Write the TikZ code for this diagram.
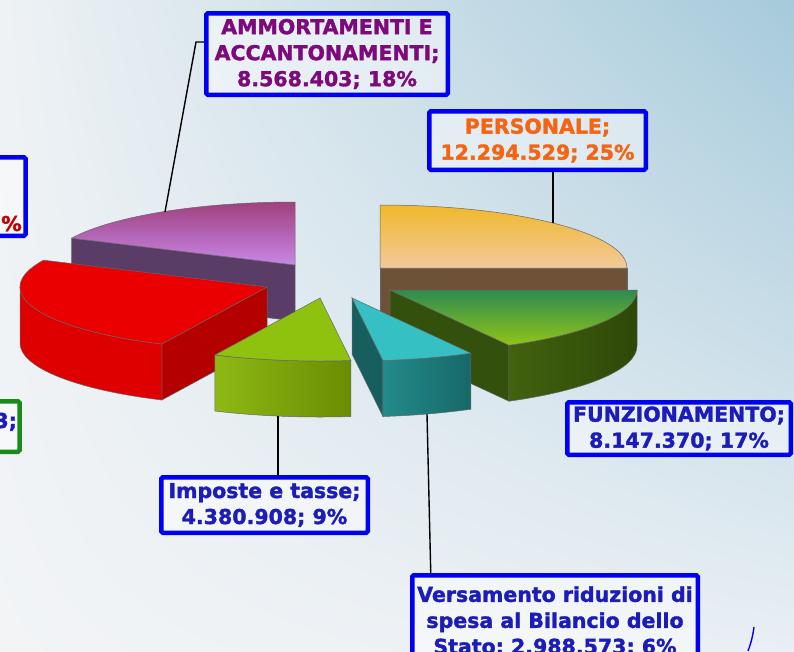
\documentclass[tikz,border=0pt]{standalone}
\usepackage{fontspec}
\setmainfont{DejaVu Sans}[BoldFont=DejaVu Sans Bold, BoldFeatures={FakeBold=1.6}]
\usetikzlibrary{positioning,calc,shadings}

\definecolor{bgul}{HTML}{EEF2F5}
\definecolor{bgur}{HTML}{A6CADB}
\definecolor{bgll}{HTML}{F2F4F6}
\definecolor{bglr}{HTML}{E9EFF4}
\definecolor{boxblue}{HTML}{0000F2}
\definecolor{boxgreen}{HTML}{1A8A1A}
\definecolor{bluetext}{HTML}{1C1CB8}
\definecolor{ammotext}{HTML}{7D0A7D}
\definecolor{perstext}{HTML}{F56412}
\definecolor{redtext}{HTML}{C00000}

\tikzset{
  labelbox/.style = {draw=boxblue, line width=4.5pt, rounded corners=1.5pt,
                     fill=white, fill opacity=0.45, text opacity=1,
                     align=center, inner sep=0pt,
                     font=\bfseries\fontsize{20.5}{26}\selectfont},
  leader/.style = {draw=black, line width=1.4pt},
  pieedge/.style = {draw=black!60, line width=0.5pt}
}

\begin{document}
\begin{tikzpicture}[x=1pt, y=-1pt, x radius=247, y radius=63]
\useasboundingbox (0,0) rectangle (794,651);
\clip (0,0) rectangle (794,651);
% background
\shade[upper left=bgul, upper right=bgur, lower left=bgll, lower right=bglr]
  (0,0) rectangle (794,651);

% ammortamenti
\begin{scope}[shift={(295,265)}]
  \fill[fill={rgb,255:red,90;green,61;blue,102}, pieedge]
    (0,0) -- (205.2:247 and 63) -- ++(0,56) -- (0,56) -- cycle;
  \shade[top color={rgb,255:red,160;green,64;blue,126},
         bottom color={rgb,255:red,200;green,135;blue,232}, pieedge]
    (0,0) -- (205.2:247 and 63) arc[start angle=205.2, end angle=270] -- cycle;
\end{scope}

% personale
\begin{scope}[shift={(380,268)}]
  \fill[fill={rgb,255:red,110;green,82;blue,56}, pieedge]
    (0,0) -- (0:247 and 63) -- ++(0,56) -- (0,56) -- cycle;
  \shade[top color={rgb,255:red,241;green,184;blue,42},
         bottom color={rgb,255:red,242;green,201;blue,156}, pieedge]
    (0,0) -- (-90:247 and 63) arc[start angle=-90, end angle=0] -- cycle;
\end{scope}

% red slice
\begin{scope}[shift={(267,287)}]
  \fill[fill={rgb,255:red,181;green,0;blue,0}, pieedge]
    (0,0) -- (115.2:247 and 63) -- ++(0,56) -- (0,56) -- cycle;
  \fill[fill={rgb,255:red,222;green,0;blue,0}, pieedge]
    (115.2:247 and 63) arc[start angle=115.2, end angle=180]
    -- ++(0,56) arc[start angle=180, end angle=115.2] -- cycle;
  \fill[fill={rgb,255:red,234;green,0;blue,0}, pieedge]
    (0,0) -- (115.2:247 and 63) arc[start angle=115.2, end angle=205.2] -- cycle;
\end{scope}

% funzionamento
\begin{scope}[shift={(390,290)}]
  \fill[fill={rgb,255:red,51;green,80;blue,12}, pieedge]
    (0,0) -- (61.2:247 and 63) -- ++(0,56) -- (0,56) -- cycle;
  \shade[left color={rgb,255:red,66;green,98;blue,15},
         right color={rgb,255:red,46;green,72;blue,8}, pieedge]
    (0:247 and 63) arc[start angle=0, end angle=61.2]
    -- ++(0,56) arc[start angle=61.2, end angle=0] -- cycle;
  \shade[top color={rgb,255:red,46;green,139;blue,80},
         bottom color={rgb,255:red,144;green,196;blue,24}, pieedge]
    (0,0) -- (0:247 and 63) arc[start angle=0, end angle=61.2] -- cycle;
\end{scope}

% imposte
\begin{scope}[shift={(320,298)}]
  \shade[left color={rgb,255:red,142;green,185;blue,21},
         right color={rgb,255:red,106;green,140;blue,2}, pieedge]
    (82.8:247 and 63) arc[start angle=82.8, end angle=115.2]
    -- ++(0,56) arc[start angle=115.2, end angle=82.8] -- cycle;
  \fill[fill={rgb,255:red,143;green,194;blue,15}, pieedge]
    (0,0) -- (82.8:247 and 63) arc[start angle=82.8, end angle=115.2] -- cycle;
\end{scope}

% versamento
\begin{scope}[shift={(352,298)}]
  \fill[fill={rgb,255:red,23;green,95;blue,95}, pieedge]
    (0,0) -- (82.8:247 and 63) -- ++(0,56) -- (0,56) -- cycle;
  \shade[left color={rgb,255:red,35;green,138;blue,138},
         right color={rgb,255:red,23;green,104;blue,104}, pieedge]
    (61.2:247 and 63) arc[start angle=61.2, end angle=82.8]
    -- ++(0,56) arc[start angle=82.8, end angle=61.2] -- cycle;
  \fill[fill={rgb,255:red,53;green,193;blue,196}, pieedge]
    (0,0) -- (61.2:247 and 63) arc[start angle=61.2, end angle=82.8] -- cycle;
\end{scope}

% labels
\node[labelbox, text=ammotext, minimum width=241.5pt, minimum height=81.5pt]
  (ammo) at (327,54) {AMMORTAMENTI E\\ACCANTONAMENTI;\\8.568.403; 18\%};
\node[labelbox, text=perstext, minimum width=216.5pt, minimum height=58.5pt]
  (pers) at (537.5,140.5) {PERSONALE;\\12.294.529; 25\%};
\node[labelbox, text=bluetext, minimum width=223.5pt, minimum height=52.5pt]
  (funz) at (679,428.5) {FUNZIONAMENTO;\\8.147.370; 17\%};
\node[labelbox, text=bluetext, minimum width=206.5pt, minimum height=55.5pt]
  (imp) at (264.5,505) {Imposte e tasse;\\4.380.908; 9\%};
\node[labelbox, text=bluetext, minimum width=285.5pt, minimum height=92.5pt]
  (vers) at (555,621.5) {Versamento riduzioni di\\spesa al Bilancio dello\\Stato; 2.988.573; 6\%};
\node[labelbox, text=redtext, anchor=base east, text width=150pt, align=right,
      text height=71pt, text depth=2pt, inner xsep=3.75pt, inner ysep=2.75pt]
  (altri) at (27.75,231) {\%};
\node[labelbox, draw=boxgreen, text=bluetext, anchor=base east, text width=150pt,
      align=right, text height=24pt, text depth=21pt, inner xsep=2.5pt, inner ysep=2.75pt]
  (altro) at (21.75,428) {3;};

% leaders
\coordinate (ammo-end) at (165,212);
\coordinate (ammo-bend) at (196,42);
\coordinate (pers-end) at (553,223);
\coordinate (imp-end) at (278,416);
\coordinate (vers-end) at (427,414);
\draw[leader] (ammo-end) -- (ammo-bend) -- (ammo-bend -| ammo.west);
\draw[leader] (pers-end) -- (pers-end |- pers.south);
\draw[leader] (imp-end) -- (imp-end |- imp.north);
\draw[leader] (vers-end) -- ([xshift=20.75pt]vers.north west);

\draw[boxblue, line width=1.4pt] (754,627) to[bend left=6] (748,651);
\end{tikzpicture}
\end{document}
